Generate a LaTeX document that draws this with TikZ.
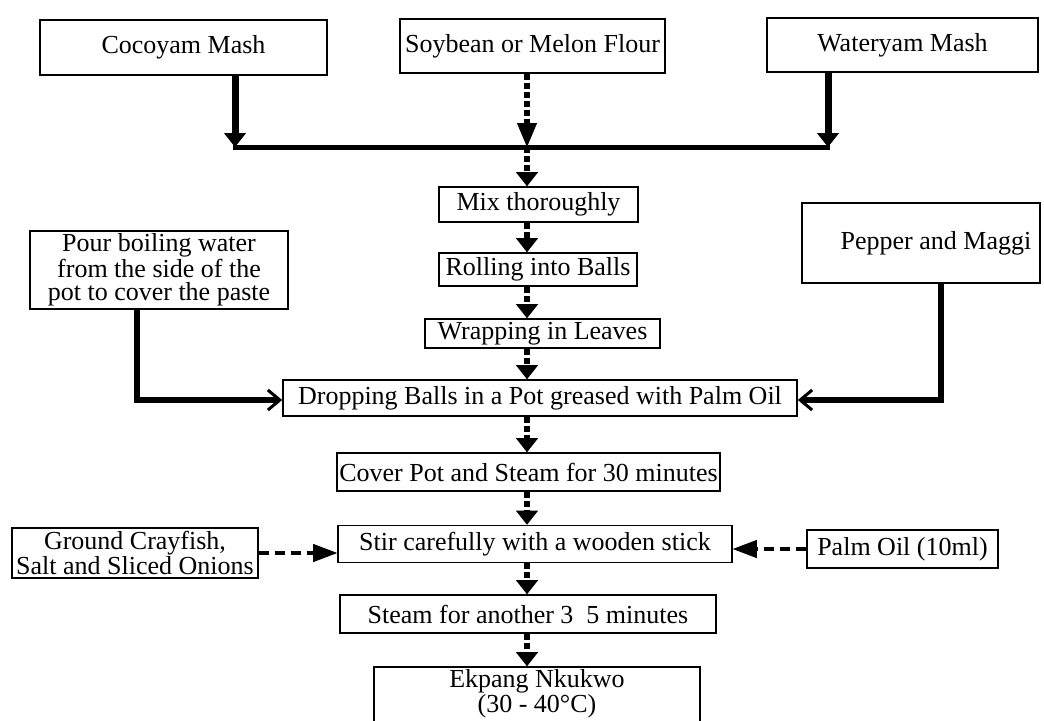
\documentclass[tikz,border=0pt]{standalone}
\usepackage{fontspec}
\setmainfont{Liberation Serif}
\usetikzlibrary{arrows.meta,positioning,calc}

\begin{document}
\begin{tikzpicture}[x=0.5pt,y=-0.5pt,
  box/.style={draw,line width=0.8pt,inner sep=0pt,align=center,
    font=\fontsize{13}{11.5}\selectfont},
  mainflow/.style={line width=3pt,dash pattern=on 3pt off 1.5pt,
    -{Triangle[width=11pt,length=7pt,line width=0.4pt]}},
  softflow/.style={mainflow,-{Triangle[width=10pt,length=12pt,line width=0.4pt]}},
  topflow/.style={line width=3.5pt,-{Triangle[width=11pt,length=7pt,line width=0.4pt]}},
  bar/.style={line width=2.5pt},
  feedline/.style={line width=3pt,-{Straight Barb[width=10pt,length=6pt,line width=1.5pt]}},
  sidefeed/.style={line width=1.6pt,dash pattern=on 5pt off 3pt,
    -{Triangle[width=9pt,length=12pt,line width=0.4pt]}}]
\useasboundingbox (0,0) rectangle (1044,720);
% raw materials
\node[box,minimum width=143.5pt,minimum height=27.5pt] (cocoyam) at (183.5,47.5) {Cocoyam Mash};
\node[box,minimum width=132.5pt,minimum height=27pt] (soybean) at (532.5,46) {Soybean or Melon Flour};
\node[box,minimum width=135.5pt,minimum height=27pt] (wateryam) at (902.5,45) {Wateryam Mash};
% main steps
\node[box,minimum width=99.5pt,minimum height=17.5pt] (mix) at (538.5,204.5) {Mix thoroughly};
\node[box,minimum width=99pt,minimum height=16.5pt] (rolling) at (538,269.5) {Rolling into Balls};
\node[box,minimum width=117.5pt,minimum height=14.5pt] (wrapping) at (542.5,333.5) {Wrapping in Leaves};
\node[box,minimum width=257pt,minimum height=18pt] (dropping) at (540,398) {Dropping Balls in a Pot greased with Palm Oil};
\node[box,minimum width=191.5pt,minimum height=19pt] (cover) at (528.5,472) {Cover Pot and Steam for 30 minutes};
\node[box,minimum width=197pt,minimum height=18.5pt] (stir) at (535,544) {Stir carefully with a wooden stick};
\node[box,minimum width=188pt,minimum height=19pt] (steam) at (528,614) {Steam for another 3 \ 5 minutes};
\node[box,minimum width=163pt,minimum height=34pt] (ekpang) at (537,701)
  {\raisebox{3.5pt}[\height][\depth]{\begin{tabular}{@{}c@{}}Ekpang Nkukwo\\(30 - 40°C)\end{tabular}}};
% side inputs
\node[box,minimum width=129pt,minimum height=39pt] (pour) at (159,270)
  {Pour boiling water\\from the side of the\\pot to cover the paste};
\node[box,minimum width=119pt,minimum height=40pt] (pepper) at (921,243) {\hspace{15pt}Pepper and Maggi};
\node[box,minimum width=123pt,minimum height=25pt] (ground) at (135,553)
  {Ground Crayfish,\\Salt and Sliced Onions};
\node[box,minimum width=95.5pt,minimum height=19pt] (palm) at (902.5,549) {Palm Oil (10ml)};
% joins
\coordinate (joinL) at (235,147);
\coordinate (joinM) at (527,147);
\coordinate (joinR) at (828,147);
\coordinate (spine) at (527,0);
\draw[bar] ([xshift=-1pt]joinL) -- ([xshift=1pt]joinR);
\draw[topflow] (cocoyam.south -| joinL) -- (joinL);
\draw[topflow] (wateryam.south -| joinR) -- (joinR);
\draw[softflow] (soybean.south -| joinM) -- (joinM);
\draw[mainflow] (joinM) -- (mix.north -| spine);
\draw[mainflow] (mix.south -| spine) -- (rolling.north -| spine);
\draw[mainflow] (rolling.south -| spine) -- (wrapping.north -| spine);
\draw[mainflow] (wrapping.south -| spine) -- (dropping.north -| spine);
\draw[mainflow] (dropping.south -| spine) -- (cover.north -| spine);
\draw[mainflow] (cover.south -| spine) -- (stir.north -| spine);
\draw[mainflow] (stir.south -| spine) -- (steam.north -| spine);
\draw[mainflow] (steam.south -| spine) -- (ekpang.north -| spine);
% additions
\draw[feedline] ([xshift=-11pt]pour.south) |- ([yshift=-1pt]dropping.west);
\draw[feedline] ([xshift=10pt]pepper.south) |- ([yshift=-1pt]dropping.east);
\draw[sidefeed] (ground.east) -- (ground.east -| stir.west);
\draw[sidefeed] (palm.west) -- (palm.west -| stir.east);
\end{tikzpicture}
\end{document}
